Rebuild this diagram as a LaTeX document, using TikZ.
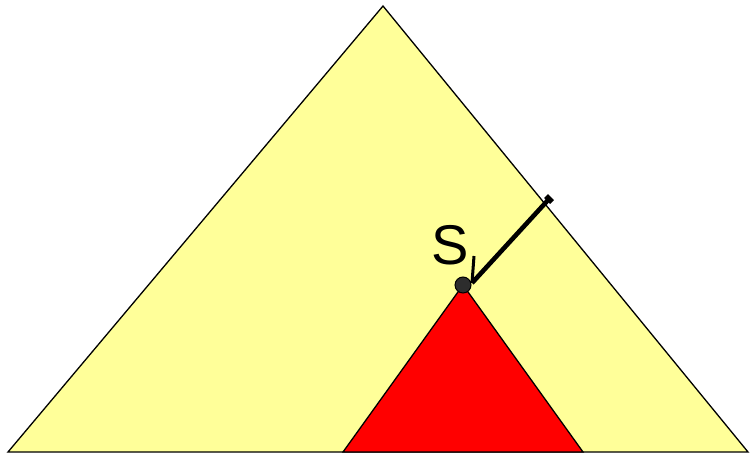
\documentclass[tikz,border=0pt]{standalone}
\usepackage{fontspec}
\setmainfont{Liberation Sans}
\definecolor{paleyellow}{RGB}{255,255,153}
\definecolor{dotgray}{RGB}{45,45,45}
\begin{document}
\begin{tikzpicture}[x=1pt,y=-1pt,
  tri/.style={draw=black,line width=1.3pt,line join=miter},
  pointer/.style={draw=black,line width=4.6pt}]
\useasboundingbox (0,0) rectangle (751,454);
\coordinate (A) at (383,6);
\coordinate (BL) at (8,452);
\coordinate (BR) at (748,452);
\filldraw[tri,fill=paleyellow] (A) -- (BR) -- (BL) -- cycle;
\coordinate (R) at (463,285);
\coordinate (RL) at (343,452);
\coordinate (RR) at (583,452);
\filldraw[tri,fill=red] (R) -- (RR) -- (RL) -- cycle;
\coordinate (P1) at (549,199);
\coordinate (P2) at (472,283);
\coordinate (T1) at (546,196);
\coordinate (T2) at (552,202);
\coordinate (H) at (474,256);
\draw[pointer] (P1) -- (P2);
\draw[pointer,line width=5.5pt] (T1) -- (T2);
\draw[black,line width=3pt] (P2) -- (H);
\node[circle,draw=black,fill=dotgray,line width=1pt,minimum size=16pt,inner sep=0pt] (dot) at (R) {};
\node[font=\fontsize{56}{56}\selectfont,inner sep=0pt,anchor=base] (S) at (450,264) {S};
\end{tikzpicture}
\end{document}
